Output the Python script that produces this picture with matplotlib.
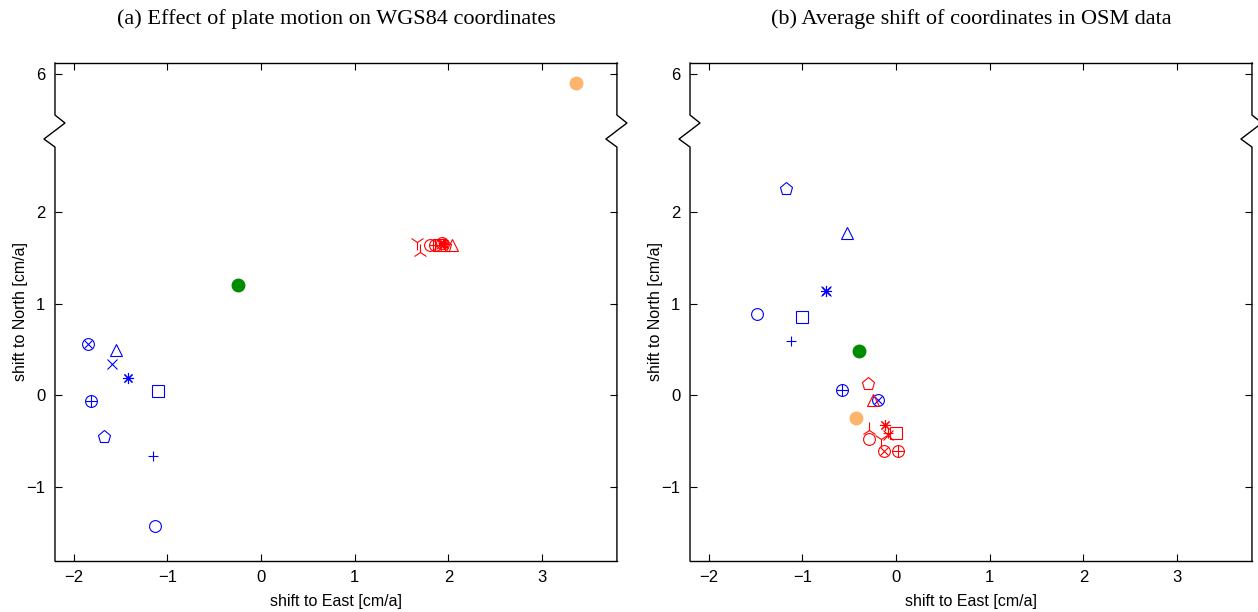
import numpy as np
import matplotlib.pyplot as plt
from matplotlib.lines import Line2D

# marker kinds shared by the series
kinds = ['o', 'x', '+', '*', 's', '^', 'p', 'otimes', 'oplus', 'tri_up', 'tri_down']

# (a) plate motion
a_blue_x = [-1.13, -1.59, -1.157, -1.418, -1.097, -1.547, -1.679, -1.848, -1.819]
a_blue_y = [-1.425, 0.34, -0.665, 0.19, 0.047, 0.50, -0.455, 0.564, -0.062]
a_red_x = [1.80, 1.92, 1.94, 1.95, 1.90, 2.04, 1.96, 1.93, 1.86, 1.70, 1.665]
a_red_y = [1.64, 1.65, 1.66, 1.65, 1.64, 1.64, 1.63, 1.655, 1.64, 1.567, 1.668]
a_green = (-0.25, 1.20)
a_orange = (3.36, 5.90)

# (b) average shift in OSM
b_blue_x = [-1.485, -0.748, -1.123, -0.748, -1.002, -0.52, -1.174, -0.19, -0.577]
b_blue_y = [0.887, 1.14, 0.596, 1.134, 0.85, 1.77, 2.246, -0.047, 0.062]
b_red_x = [-0.284, -0.088, -0.09, -0.12, 0.002, -0.249, -0.298, -0.131, 0.024, -0.284, -0.166]
b_red_y = [-0.47, -0.436, -0.41, -0.327, -0.41, -0.055, 0.12, -0.607, -0.607, -0.38, -0.47]
b_green = (-0.394, 0.487)
b_orange = (-0.427, -0.251)

titles = ['(a) Effect of plate motion on WGS84 coordinates',
          '(b) Average shift of coordinates in OSM data']
xticks = [-2, -1, 0, 1, 2, 3]
xtick_labels = ['\u22122', '\u22121', '0', '1', '2', '3']
yticks_real = [-1, 0, 1, 2, 6]
ytick_labels = ['\u22121', '0', '1', '2', '6']

# y axis is broken: values above the gap are moved down by this much
gap_shift = 2.5
gap_start = 3.0


def fold(y):
    y = np.asarray(y, dtype=float)
    return np.where(y > gap_start, y - gap_shift, y)


def draw_marker(ax, x, y, kind, color):
    y = fold(y)
    kw = dict(ls='none', color=color, mfc='none', mec=color, mew=0.8)
    if kind == 'otimes':
        ax.plot(x, y, marker='o', ms=8.5, **kw)
        ax.plot(x, y, marker='x', ms=6, **kw)
    elif kind == 'oplus':
        ax.plot(x, y, marker='o', ms=8.5, **kw)
        ax.plot(x, y, marker='+', ms=8.5, **kw)
    elif kind == '*':
        ax.plot(x, y, marker=(8, 2, 0), ms=8, **kw)
    elif kind == 'tri_up':
        ax.plot(x, y, marker='2', ms=11, **kw)
    elif kind == 'tri_down':
        ax.plot(x, y, marker='1', ms=11, **kw)
    elif kind == 'o':
        ax.plot(x, y, marker='o', ms=8.5, **kw)
    elif kind == 's':
        ax.plot(x, y, marker='s', ms=8, **kw)
    elif kind == 'p':
        ax.plot(x, y, marker='p', ms=9.5, **kw)
    elif kind == '^':
        ax.plot(x, y, marker='^', ms=8, **kw)
    else:
        ax.plot(x, y, marker=kind, ms=7.5, **kw)


def draw_break(ax, xa, sign):
    # spine with a zigzag break, axes coordinates
    tr = ax.transAxes
    ys = [1.0, 0.8955, 0.8795, 0.8473, 0.8312, 0.0]
    xs = [xa, xa, xa + sign * 0.0178, xa - sign * 0.0196, xa, xa]
    ax.add_line(Line2D(xs, ys, transform=tr, color='k', lw=1.0,
                       clip_on=False, zorder=5))


plt.rcParams['font.family'] = ['Liberation Sans', 'DejaVu Sans']

fig = plt.figure(figsize=(12.58, 6.12), dpi=100)
positions = [[0.0437, 0.0838, 0.4467, 0.8132], [0.5485, 0.0838, 0.4467, 0.8132]]
panels = [
    (a_blue_x, a_blue_y, a_red_x, a_red_y, a_green, a_orange),
    (b_blue_x, b_blue_y, b_red_x, b_red_y, b_green, b_orange),
]

for i, (bx, by, rx, ry, gr, orng) in enumerate(panels):
    ax = fig.add_axes(positions[i])
    for k, x, y in zip(kinds, bx, by):
        draw_marker(ax, x, y, k, '#0000ff')
    for k, x, y in zip(kinds, rx, ry):
        draw_marker(ax, x, y, k, '#ff0000')
    ax.plot(gr[0], fold(gr[1]), 'o', ms=9, color='#008c00', mec='#008c00')
    ax.plot(orng[0], fold(orng[1]), 'o', ms=9, color='#fdb46c', mec='#fdb46c')

    ax.set_xlim(-2.2, 3.8)
    ax.set_ylim(-1.8, 3.62)
    ax.set_xticks(xticks)
    ax.set_xticklabels(xtick_labels)
    ax.set_yticks(fold(yticks_real))
    ax.set_yticklabels(ytick_labels)
    ax.tick_params(direction='in', top=True, right=True, length=5,
                   width=0.8, labelsize=12, pad=7)
    for s in ['top', 'bottom']:
        ax.spines[s].set_linewidth(1.0)
    ax.spines['left'].set_visible(False)
    ax.spines['right'].set_visible(False)
    draw_break(ax, 0.0, 1)
    draw_break(ax, 1.0, 1)

    ax.set_xlabel('shift to East [cm/a]', fontsize=11.5, labelpad=6)
    ax.set_ylabel('shift to North [cm/a]', fontsize=11.5)
    ax.yaxis.set_label_coords(-0.048, 0.5)
    ax.set_title(titles[i], fontsize=16, family='Liberation Serif', pad=28)

fig.savefig('out.png', dpi=100)
